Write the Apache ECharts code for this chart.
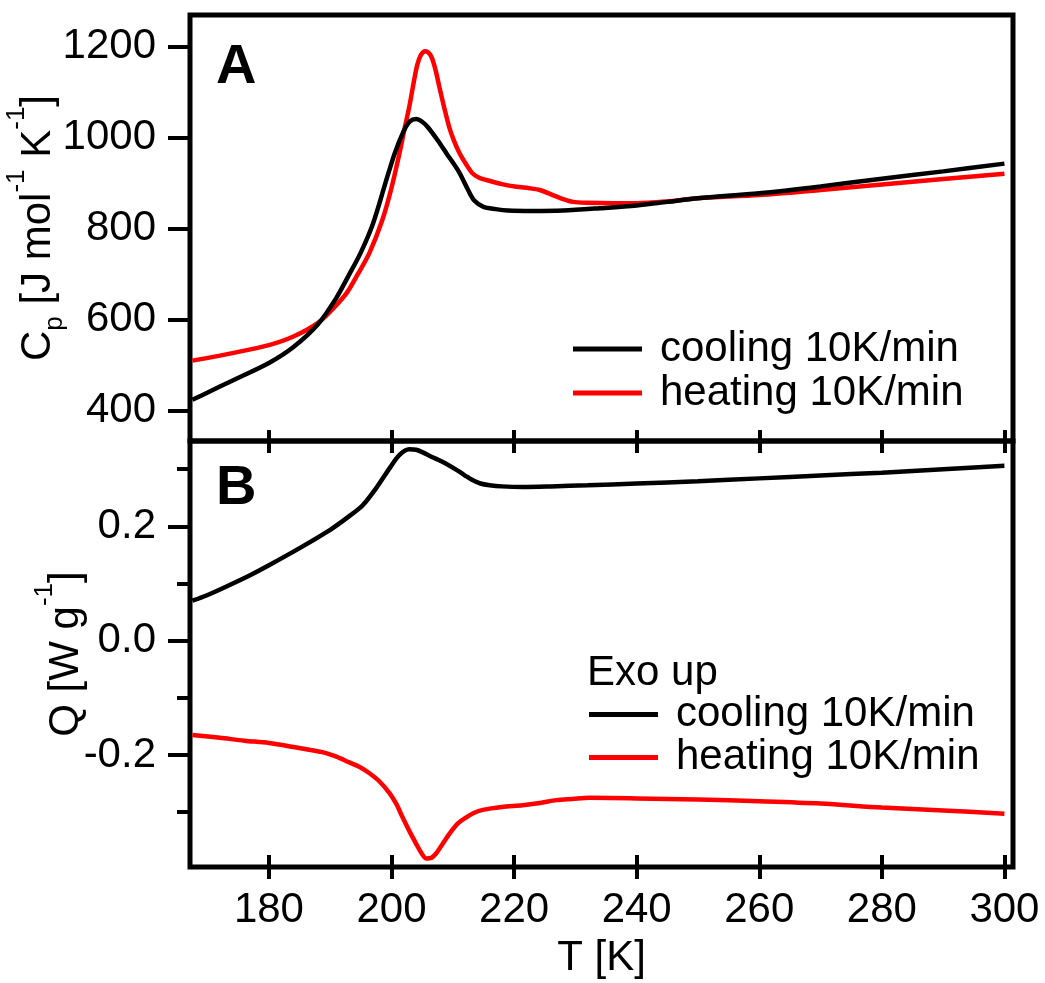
<!DOCTYPE html>
<html>
<head>
  <meta charset="utf-8">
  <title>Cp and DSC</title>
  <script src="https://cdn.jsdelivr.net/npm/echarts@6/dist/echarts.min.js"></script>
  <style>
    html, body { margin: 0; padding: 0; background: #fff; }
  </style>
</head>
<body>
  <div id="main" style="width: 1045px;height:983px;"></div>
  <script type="text/javascript">
    // panel A: heat capacity, cooling run
    var tCoolA = [167.5, 170, 174, 180, 184, 188, 191, 193, 195, 197, 199, 200.5, 202, 203, 204, 205, 206, 207.5, 209, 211, 212.5, 213.5, 215, 217, 219, 223, 228, 234, 240, 245, 250, 260, 270, 280, 290, 300];
    var cpCool = [424, 440, 466, 505, 540, 590, 648, 697, 748, 812, 900, 965, 1015, 1036, 1041, 1035, 1022, 995, 965, 925, 885, 862, 848, 843, 840, 839, 840, 845, 851, 859, 867, 878, 893, 910, 926, 943];

    // panel A: heat capacity, heating run
    var tHeatA = [167.5, 172, 176, 180, 184, 188, 190.5, 192.7, 194.5, 196.4, 198.5, 200, 201.3, 202.1, 202.9, 203.6, 204.2, 204.8, 205.5, 206.1, 206.6, 207.2, 207.8, 208.6, 209.4, 210.2, 211.1, 212.2, 213.2, 214.3, 215.5, 218, 220.4, 222.5, 224.2, 226.3, 228, 229.6, 232, 236, 240, 245, 250, 260, 270, 280, 290, 300];
    var cpHeat = [510, 521, 532, 544, 563, 593, 625, 659, 700, 747, 819, 890, 966, 1018, 1068, 1120, 1160, 1182, 1190, 1186, 1175, 1148, 1112, 1066, 1024, 993, 966, 941, 922, 912, 907, 898, 892, 889, 885, 874, 865, 859, 857, 856, 856, 860, 867, 874, 885, 897, 909, 921];

    // panel B: heat flow, cooling run
    var tCoolB = [167.5, 170, 173.5, 177, 180, 185, 190, 193, 195.3, 197.5, 199.7, 201.3, 202.9, 204, 205, 206.5, 208.3, 210.6, 212, 213.2, 214.5, 216, 218, 221.4, 226, 232, 240, 250, 260, 270, 280, 290, 300];
    var qCool = [0.070, 0.080, 0.097, 0.115, 0.132, 0.162, 0.194, 0.217, 0.237, 0.267, 0.302, 0.325, 0.335, 0.334, 0.330, 0.322, 0.313, 0.299, 0.289, 0.281, 0.275, 0.272, 0.270, 0.269, 0.270, 0.272, 0.275, 0.279, 0.284, 0.289, 0.294, 0.300, 0.306];

    // panel B: heat flow, heating run
    var tHeatB = [167.5, 172, 176, 180, 184, 188.7, 191, 193.1, 194.8, 196.4, 198, 199.7, 200.8, 201.8, 203, 204, 204.9, 205.7, 206.5, 207.3, 208.3, 209.5, 210.8, 212.2, 213.5, 214.9, 218, 221.4, 224.2, 226.9, 229.5, 232.3, 240, 250, 260, 270, 280, 290, 300];
    var qHeat = [-0.165, -0.170, -0.175, -0.179, -0.186, -0.195, -0.203, -0.213, -0.221, -0.232, -0.246, -0.267, -0.286, -0.309, -0.335, -0.355, -0.372, -0.381, -0.380, -0.372, -0.356, -0.337, -0.320, -0.309, -0.301, -0.296, -0.291, -0.288, -0.284, -0.279, -0.277, -0.275, -0.276, -0.278, -0.281, -0.285, -0.292, -0.297, -0.303];

    var tTicks = [180, 200, 220, 240, 260, 280, 300];
    var cpTicks = [400, 600, 800, 1000, 1200];
    var qTicks = [-0.2, 0, 0.2];
    var qMinorTicks = [-0.3, -0.1, 0.1, 0.3];

    var coolName = 'cooling 10K/min';
    var heatName = 'heating 10K/min';

    function zip(xs, ys) {
      return xs.map(function (x, i) { return [x, ys[i]]; });
    }

    var FONT = 'Liberation Sans';
    var myChart = echarts.init(document.getElementById('main'));

    var nameRich = {
      n: { fontSize: 42, lineHeight: 42, fontFamily: FONT, color: '#000' },
      sup: { fontSize: 26, lineHeight: 26, padding: [0, 0, 42, 0], fontFamily: FONT, color: '#000' },
      sub: { fontSize: 26, lineHeight: 26, padding: [34, 0, 0, 0], fontFamily: FONT, color: '#000' }
    };

    var option = {
      animation: false,
      backgroundColor: '#fff',
      grid: [
        { left: 190, right: 32, top: 15, height: 426, show: true, borderColor: '#000', borderWidth: 5, outerBoundsMode: 'none', containLabel: false },
        { left: 190, right: 32, top: 441, bottom: 116, show: true, borderColor: '#000', borderWidth: 5, outerBoundsMode: 'none', containLabel: false }
      ],
      xAxis: [
        {
          type: 'value', gridIndex: 0, position: 'bottom', min: 167.12, max: 301.4, offset: -11,
          axisLine: { show: false, onZero: false },
          axisTick: { customValues: tTicks, length: 23, lineStyle: { color: '#000', width: 4 } },
          axisLabel: { show: false },
          splitLine: { show: false }
        },
        {
          type: 'value', gridIndex: 1, position: 'bottom', min: 167.12, max: 301.4, offset: -12,
          name: 'T [K]', nameLocation: 'middle', nameGap: 82, nameMoveOverlap: false,
          nameTextStyle: { fontSize: 42, fontFamily: FONT, color: '#000' },
          axisLine: { show: false, onZero: false },
          axisTick: { customValues: tTicks, length: 24, lineStyle: { color: '#000', width: 4 } },
          axisLabel: { customValues: tTicks, margin: 34, fontSize: 42, fontFamily: FONT, color: '#000' },
          splitLine: { show: false }
        }
      ],
      yAxis: [
        {
          type: 'value', gridIndex: 0, position: 'left', min: 333.4, max: 1269.7,
          name: '{n|C}{sub|p}{n| [J mol}{sup|-1}{n| K}{sup|-1}{n|]}',
          nameLocation: 'middle', nameGap: 131, nameMoveOverlap: false,
          nameTextStyle: { fontSize: 42, lineHeight: 42, fontFamily: FONT, color: '#000', rich: nameRich },
          axisLine: { show: false, onZero: false },
          axisTick: { customValues: cpTicks, length: 22, lineStyle: { color: '#000', width: 4 } },
          axisLabel: {
            customValues: cpTicks, margin: 34, fontSize: 42, fontFamily: FONT, color: '#000',
            formatter: function (v) { return String(v); }
          },
          splitLine: { show: false }
        },
        {
          type: 'value', gridIndex: 1, position: 'left', min: -0.396, max: 0.3494,
          name: '{n|Q [W g}{sup|-1}{n|]}',
          nameLocation: 'middle', nameGap: 103, nameMoveOverlap: false,
          nameTextStyle: { fontSize: 42, lineHeight: 42, fontFamily: FONT, color: '#000', rich: nameRich },
          axisLine: { show: false, onZero: false },
          axisTick: { customValues: qTicks, length: 22, lineStyle: { color: '#000', width: 4 } },
          axisLabel: {
            customValues: qTicks, margin: 34, fontSize: 42, fontFamily: FONT, color: '#000',
            formatter: function (v) { return v.toFixed(1); }
          },
          splitLine: { show: false }
        },
        {
          // minor ticks of panel B
          type: 'value', gridIndex: 1, position: 'left', min: -0.396, max: 0.3494,
          axisLine: { show: false, onZero: false },
          axisTick: { customValues: qMinorTicks, length: 13, lineStyle: { color: '#000', width: 4 } },
          axisLabel: { show: false },
          splitLine: { show: false }
        }
      ],
      legend: [
        {
          data: [coolName, heatName], orient: 'vertical', left: 573, top: 327, padding: 0, itemGap: 0,
          icon: 'rect', itemWidth: 69, itemHeight: 5, selectedMode: false,
          textStyle: { fontSize: 42, lineHeight: 44, fontFamily: FONT, color: '#000', padding: [0, 0, 0, 13] }
        },
        {
          data: [coolName, heatName], orient: 'vertical', left: 589, top: 693, padding: 0, itemGap: 0,
          icon: 'rect', itemWidth: 69, itemHeight: 5, selectedMode: false,
          textStyle: { fontSize: 42, lineHeight: 43, fontFamily: FONT, color: '#000', padding: [0, 0, 0, 13] }
        }
      ],
      graphic: [
        { type: 'text', left: 216, top: 40, style: { text: 'A', font: 'bold 56px "Liberation Sans"', fill: '#000' } },
        { type: 'text', left: 216, top: 461, style: { text: 'B', font: 'bold 56px "Liberation Sans"', fill: '#000' } },
        { type: 'text', left: 587, top: 652, style: { text: 'Exo up', font: '42px "Liberation Sans"', fill: '#000' } }
      ],
      series: [
        {
          name: coolName, type: 'line', xAxisIndex: 0, yAxisIndex: 0, color: '#000',
          showSymbol: false, smooth: 0.3, lineStyle: { width: 4.5 }, z: 3,
          data: zip(tCoolA, cpCool)
        },
        {
          name: heatName, type: 'line', xAxisIndex: 0, yAxisIndex: 0, color: '#ff0000',
          showSymbol: false, smooth: 0.3, lineStyle: { width: 4.5 }, z: 2,
          data: zip(tHeatA, cpHeat)
        },
        {
          name: coolName, type: 'line', xAxisIndex: 1, yAxisIndex: 1, color: '#000',
          showSymbol: false, smooth: 0.3, lineStyle: { width: 4.5 },
          data: zip(tCoolB, qCool)
        },
        {
          name: heatName, type: 'line', xAxisIndex: 1, yAxisIndex: 1, color: '#ff0000',
          showSymbol: false, smooth: 0.3, lineStyle: { width: 4.5 },
          data: zip(tHeatB, qHeat)
        }
      ]
    };
    myChart.setOption(option);
  </script>
</body>
</html>
